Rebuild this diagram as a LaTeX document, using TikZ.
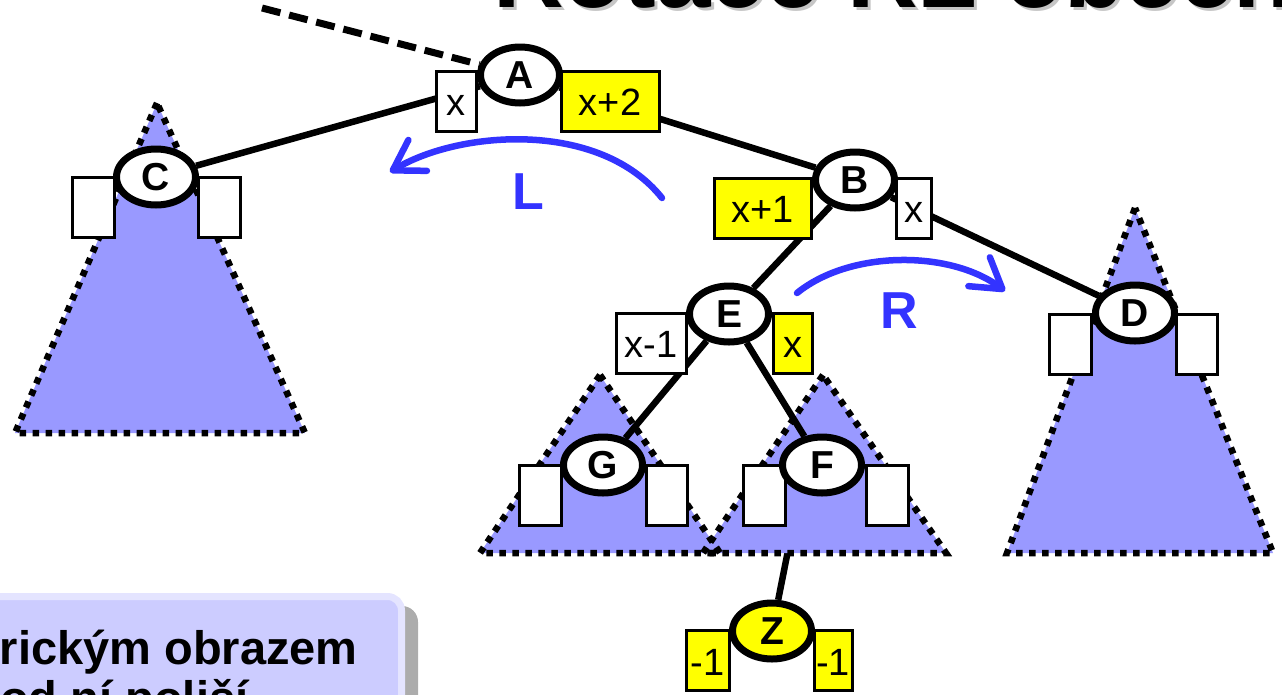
\documentclass[tikz,border=0pt]{standalone}
\usepackage{fontspec}
\setmainfont{Liberation Sans}
\usetikzlibrary{shapes.geometric,arrows.meta,calc}
\pgfdeclarelayer{bg}
\pgfdeclarelayer{under}
\pgfdeclarelayer{tri}
\pgfdeclarelayer{edges}
\pgfsetlayers{bg,under,tri,edges,main}
\definecolor{trifill}{HTML}{9999FF}
\definecolor{arrblue}{HTML}{3333FF}
\definecolor{boxfill}{HTML}{CCCCFF}
\definecolor{boxedge}{HTML}{E4E4FF}
\definecolor{yel}{HTML}{FFFF00}
\tikzset{
  knot/.style={ellipse, draw, line width=7pt, fill=white, minimum width=79pt, minimum height=56pt, inner sep=0pt, font=\bfseries\fontsize{39}{39}\selectfont},
  vbox/.style={draw, line width=3pt, fill=white, inner sep=0pt, minimum height=60pt, text height=29pt, text depth=0pt, font=\fontsize{38}{38}\selectfont},
  yvbox/.style={vbox, fill=yel},
  edge/.style={line width=6.5pt},
  subtree/.style={fill=trifill},
  subtreeborder/.style={line width=6.5pt, dash pattern=on 6.5pt off 6.5pt},
  turn/.style={draw=arrblue, line width=6.5pt, line cap=round, -{Straight Barb[length=29pt,width=36pt,round]}},
  turnlabel/.style={text=arrblue, font=\bfseries\fontsize{52}{52}\selectfont},
}
\begin{document}
\begin{tikzpicture}[x=1pt,y=-1pt]
\useasboundingbox (0,0) rectangle (1282,694);
% title and text box (cut by the frame)
\begin{pgfonlayer}{bg}
\begin{scope}
\clip (0,0) rectangle (1282,694);
\node[anchor=base west, inner sep=0pt, text=gray!45, font=\bfseries\fontsize{98}{98}\selectfont] (titleshadow) at (496,10) {Rotace RL obecně};
\node[anchor=base west, inner sep=0pt, font=\bfseries\fontsize{98}{98}\selectfont] (title) at (493,7) {Rotace RL obecně};
\fill[gray!65, rounded corners=16pt] (-20,606) rectangle (418,790);
\draw[boxedge, fill=boxfill, line width=7pt, rounded corners=14pt] (-30,596.5) rectangle (401.5,790);
\node[anchor=base east, inner sep=0pt, font=\bfseries\fontsize{47}{47}\selectfont] (t1) at (358,664) {rickým obrazem};
\node[anchor=base west, inner sep=0pt, font=\bfseries\fontsize{47}{47}\selectfont] (t2) at (0,714) {od ní poliší};
\end{scope}
\end{pgfonlayer}
% subtrees
\begin{pgfonlayer}{tri}
\fill[subtree] (157,103) -- (15,433) -- (305,433) -- cycle;
\fill[subtree] (1135,208) -- (1007,553) -- (1273,553) -- cycle;
\fill[subtree] (600,375) -- (480,553) -- (720,553) -- cycle;
\fill[subtree] (823,375) -- (703,553) -- (946,553) -- cycle;
\draw[subtreeborder] (157,103) -- (15,433) -- (305,433) -- cycle;
\draw[subtreeborder] (1135,208) -- (1007,553) -- (1273,553) -- cycle;
\draw[subtreeborder] (600,375) -- (480,553) -- (720,553) -- cycle;
\draw[subtreeborder] (823,375) -- (703,553) -- (946,553) -- cycle;
\end{pgfonlayer}
% balance boxes
\node[vbox, minimum width=40pt] (Al) at (456,101) {x};
\node[yvbox, minimum width=98pt] (Ar) at (610,101) {x+2};
\node[vbox, minimum width=42pt] (Cl) at (93,207.5) {};
\node[vbox, minimum width=42pt] (Cr) at (219,207.5) {};
\node[yvbox, minimum width=97pt] (Bl) at (762.5,208) {x+1};
\node[vbox, minimum width=35pt] (Br) at (913.5,208) {x};
\node[vbox, minimum width=42pt] (Dl) at (1070,344) {};
\node[vbox, minimum width=41pt] (Dr) at (1196.5,344) {};
\node[vbox, minimum width=70pt] (El) at (651,343) {x-1};
\node[yvbox, minimum width=39pt] (Er) at (792.5,343) {x};
\node[vbox, minimum width=42pt] (Gl) at (540,495) {};
\node[vbox, minimum width=41pt] (Gr) at (666.5,495) {};
\node[vbox, minimum width=42pt] (Fl) at (764,495) {};
\node[vbox, minimum width=42pt] (Fr) at (887,495) {};
\node[yvbox, minimum width=43pt] (Zl) at (707.5,660.5) {-1};
\node[yvbox, minimum width=38pt] (Zr) at (833,660.5) {-1};
% tree nodes
\node[knot] (A) at (520,75) {A};
\node[knot] (B) at (855,180) {B};
\node[knot] (C) at (156,177) {C};
\node[knot] (D) at (1135,313) {D};
\node[knot] (E) at (729,314) {E};
\node[knot] (G) at (603,465) {G};
\node[knot] (F) at (822,465) {F};
\node[knot, fill=yel] (Z) at (772,631) {Z};
% connectors
\coordinate (up) at (262,8);
\begin{pgfonlayer}{edges}
\draw[edge, line width=7pt, dash pattern=on 19pt off 9pt] (up) -- (A);
\draw[edge] (A) -- (C);
\draw[edge] (A) -- (B);
\draw[edge] (B) -- (E);
\draw[edge] (B) -- (D);
\draw[edge] (E) -- (G);
\draw[edge] (E) -- (F);
\end{pgfonlayer}
\begin{pgfonlayer}{under}
\draw[edge] ($(F)+(-17,0)$) -- (Z);
\end{pgfonlayer}
% rotation arrows
\coordinate (Ls) at (662,198);
\coordinate (Le) at (390,172);
\coordinate (Rs) at (797,293);
\coordinate (Re) at (1005,291);
\draw[turn] (Ls) .. controls (600,120) and (460,130) .. (Le);
\draw[turn] (Rs) .. controls (850,250) and (950,250) .. (Re);
\node[turnlabel] (Ll) at (528,192) {L};
\node[turnlabel] (Rl) at (899,311) {R};
\end{tikzpicture}
\end{document}
